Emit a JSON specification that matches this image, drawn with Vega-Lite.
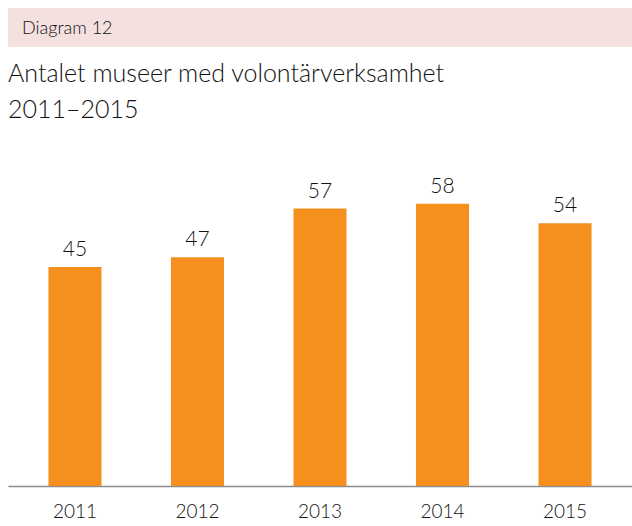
{
  "$schema": "https://vega.github.io/schema/vega-lite/v6.json",
  "padding": {"left": 8, "top": 8, "right": 0, "bottom": 0},
  "background": "white",
  "config": {
    "font": "Lato",
    "view": {"stroke": null},
    "concat": {"spacing": 14}
  },
  "datasets": {
    "museer": [
      {"year": "2011", "antal": 45},
      {"year": "2012", "antal": 47},
      {"year": "2013", "antal": 57},
      {"year": "2014", "antal": 58},
      {"year": "2015", "antal": 54}
    ],
    "header": [{"label": "Diagram 12"}]
  },
  "vconcat": [
    {
      "width": 624,
      "height": 39,
      "view": {"fill": "#F3E0DF", "stroke": null},
      "data": {"name": "header"},
      "mark": {"type": "text", "align": "left", "baseline": "middle", "x": 14, "y": 21, "fontSize": 18, "fontWeight": 300, "color": "#111111", "font": "Lato"},
      "encoding": {"text": {"field": "label"}}
    },
    {
      "width": 624,
      "height": 292,
      "title": {
        "text": ["Antalet museer med volontärverksamhet", "2011–2015"],
        "anchor": "start",
        "frame": "bounds",
        "fontSize": 25,
        "fontWeight": 300,
        "lineHeight": 36,
        "color": "#111111",
        "offset": 53,
        "font": "Lato"
      },
      "data": {"name": "museer"},
      "encoding": {
        "x": {
          "field": "year",
          "type": "nominal",
          "sort": null,
          "scale": {"paddingInner": 0.567, "paddingOuter": 0.33},
          "axis": {
            "title": null,
            "labelAngle": 0,
            "labelFontSize": 19,
            "labelFontWeight": 300,
            "labelColor": "#111111",
            "labelPadding": 16,
            "ticks": false,
            "domainColor": "#8C8C8C",
            "domainWidth": 1.5,
            "labelFont": "Lato"
          }
        },
        "y": {
          "field": "antal",
          "type": "quantitative",
          "scale": {"domain": [0, 60]},
          "axis": null
        }
      },
      "layer": [
        {"mark": {"type": "bar", "color": "#F5901E"}},
        {
          "mark": {"type": "text", "baseline": "alphabetic", "dy": -11, "fontSize": 21, "fontWeight": 300, "color": "#111111", "font": "Lato"},
          "encoding": {"text": {"field": "antal", "type": "quantitative"}}
        }
      ]
    }
  ]
}
